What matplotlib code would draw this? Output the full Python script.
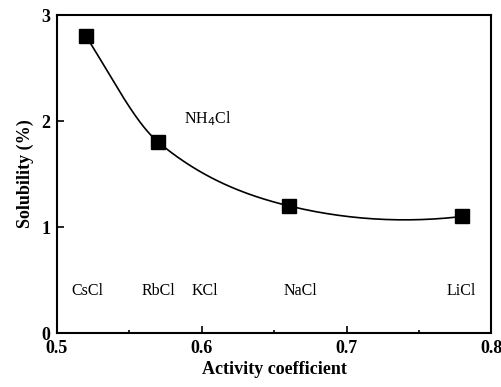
import matplotlib
matplotlib.use("Agg")
import matplotlib.pyplot as plt
import numpy as np
from matplotlib.ticker import MultipleLocator

plt.rcParams['font.family'] = ['Liberation Serif', 'DejaVu Serif']

# data
activity = [0.52, 0.57, 0.66, 0.78]
solubility = [2.8, 1.8, 1.2, 1.1]

salt_names = ["CsCl", "RbCl", "KCl", "NaCl", "LiCl"]
salt_x = [0.521, 0.570, 0.602, 0.668, 0.779]
salt_y = 0.4

xticks = [0.5, 0.6, 0.7, 0.8]
yticks = [0, 1, 2, 3]


def hermite_curve(x, y, m_start, m_end, n=60):
    # smooth curve through the points, centred slopes inside
    x = np.asarray(x, float)
    y = np.asarray(y, float)
    m = np.empty_like(x)
    m[0], m[-1] = m_start, m_end
    m[1:-1] = (y[2:] - y[:-2]) / (x[2:] - x[:-2])
    xs, ys = [], []
    for i in range(len(x) - 1):
        h = x[i + 1] - x[i]
        t = np.linspace(0, 1, n)
        h00 = 2 * t**3 - 3 * t**2 + 1
        h10 = t**3 - 2 * t**2 + t
        h01 = -2 * t**3 + 3 * t**2
        h11 = t**3 - t**2
        xs.append(x[i] + h * t)
        ys.append(h00 * y[i] + h10 * h * m[i] + h01 * y[i + 1] + h11 * h * m[i + 1])
    return np.concatenate(xs), np.concatenate(ys)


xs, ys = hermite_curve(activity, solubility, -21, 1.6)

fig = plt.figure(figsize=(5.02, 3.87), dpi=100)
ax = fig.add_axes([0.1135, 0.1395, 0.8655, 0.8215])

ax.plot(xs, ys, color="black", linewidth=1.2)
ax.plot(activity, solubility, "s", color="black", markersize=10)

for name, x in zip(salt_names, salt_x):
    ax.text(x, salt_y, name, ha="center", va="center", fontsize=11.5)
ax.text(0.604, 2.02, "NH$_4$Cl", ha="center", va="center", fontsize=11.5)

ax.set_xlim(0.5, 0.8)
ax.set_ylim(0, 3)
ax.set_xticks(xticks, labels=["%.1f" % v for v in xticks],
              fontweight="bold", fontsize=13)
ax.set_yticks(yticks, labels=[str(v) for v in yticks],
              fontweight="bold", fontsize=13)
ax.xaxis.set_minor_locator(MultipleLocator(0.05))
ax.tick_params(which="both", direction="in", top=False, right=False)
ax.tick_params(which="major", length=5, width=1.2, pad=5)
ax.tick_params(which="minor", length=2.5, width=1.2)
for s in ax.spines.values():
    s.set_linewidth(1.5)

ax.set_xlabel("Activity coefficient", fontsize=13, fontweight="bold", labelpad=3)
ax.set_ylabel("Solubility (%)", fontsize=13, fontweight="bold", labelpad=5)

fig.savefig("out.png", dpi=100)
